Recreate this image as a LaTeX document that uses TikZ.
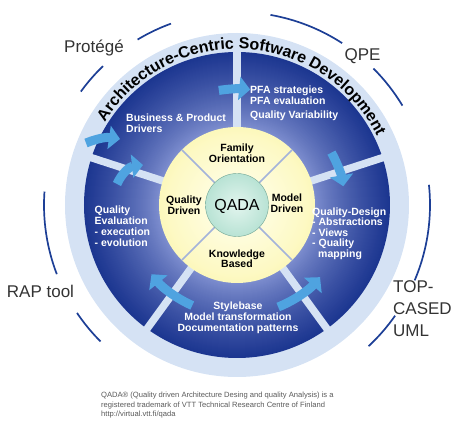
\documentclass[tikz,border=0pt]{standalone}
\usepackage{fontspec}
\setmainfont{Liberation Sans}
\usetikzlibrary{arrows.meta,decorations.text}
\definecolor{ringblue}{HTML}{D5E2F4}
\definecolor{disklight}{HTML}{94A2DD}
\definecolor{diskdark}{HTML}{1C3690}
\definecolor{yelin}{HTML}{FFFFF0}
\definecolor{yelmid}{HTML}{FDF9C4}
\definecolor{yelout}{HTML}{F4EC70}
\definecolor{grnin}{HTML}{E2F5EE}
\definecolor{grnout}{HTML}{8ED0BA}
\definecolor{arrowblue}{HTML}{4FA3E0}
\definecolor{rimblue}{HTML}{1D3F96}
\definecolor{seamblue}{HTML}{A3B3DA}
\pgfdeclareradialshading{yelshade}{\pgfpoint{0bp}{0bp}}{color(0bp)=(yelin); color(22bp)=(yelmid); color(50bp)=(yelout)}
\pgfdeclareradialshading{grnshade}{\pgfpoint{0bp}{0bp}}{color(0bp)=(grnin); color(50bp)=(grnout)}

\begin{document}
\begin{tikzpicture}[x=1pt,y=1pt,
  lbl/.style={inner sep=0pt,text=black!80,font=\fontsize{17}{22}\selectfont},
  note/.style={inner sep=0pt,text=white,align=left,font=\bfseries\fontsize{10.5}{11}\selectfont},
  core/.style={inner sep=0pt,text=black,align=center,font=\bfseries\fontsize{10.5}{11}\selectfont},
  flow/.style={arrowblue,line width=9pt,-{Triangle[width=23pt,length=11pt]}},
  gap/.style={ringblue,line width=7.5pt},
  seam/.style={seamblue,line width=1.5pt},
  rim/.style={rimblue,line width=1.7pt}]
\useasboundingbox (-237,-231) rectangle (230,205);
% rings and discs
\fill[ringblue] (0,0) circle (172);
\foreach \r in {153,152,...,72}{
  \pgfmathsetmacro{\t}{100*((\r-71)/82)^0.7}
  \fill[diskdark!\t!disklight] (0,0) circle (\r);
}
\foreach \a in {18,90,162,234,306} \draw[gap] (\a:70) -- (\a:154);
\shade[shading=yelshade] (0,0) circle (78);
\foreach \a in {45,135,225,315} \draw[seam] (\a:31) -- (\a:78);
\shade[shading=grnshade,draw=grnout!80!black,line width=0.4pt] (0,0) circle (31.5);
% centre
\node[inner sep=0pt,font=\fontsize{16}{16}\selectfont] (qada) at (0,-1) {QADA};
\node[core] (family) at (0,51.5) {Family\\Orientation};
\node[core] (model) at (50,1.5) {Model\\Driven};
\node[core,font=\bfseries\fontsize{10.5}{10.5}\selectfont] (knowledge) at (0,-54) {Knowledge\\Based};
\node[core] (quality) at (-53,-0.5) {Quality\\Driven};
% sectors
\node[note,anchor=west] (business) at (-111,82) {Business \& Product\\Drivers};
\node[note,anchor=west] (pfa) at (13,102) {PFA strategies\\PFA evaluation\\[3pt]Quality Variability};
\node[note,anchor=west,font=\bfseries\fontsize{10.5}{10.5}\selectfont] (design) at (75,-28.5) {Quality-Design\\- Abstractions\\- Views\\- Quality\\\hspace*{6pt}mapping};
\node[note,anchor=west] (evaluation) at (-142.5,-21) {Quality\\Evaluation\\- execution\\- evolution};
\node[note,align=center] (stylebase) at (1,-113) {Stylebase\\Model transformation\\Documentation patterns};
% arrows
\draw[flow] (99:116) arc (99:84:120);
\draw[flow] (29:108) arc (29:10:108);
\draw[flow] (292:110) arc (292:319:110);
\draw[flow] (246:110) arc (246:219:110);
\draw[flow] (-151,62) to[bend left=15] (-117,66);
\draw[flow] (-120,21) to[bend left=30] (-94,40);
% tools
\foreach \a/\b in {110/121,134/144,176/201,214/225,313/325,337/366,31/45,57/80}
  \draw[rim] (\a:193) arc (\a:\b:193);
\node[lbl,anchor=base] (protege) at (-143,152) {Protégé};
\node[lbl,anchor=base] (qpe) at (125.5,144) {QPE};
\node[lbl,anchor=base] (rap) at (-196.5,-92.5) {RAP tool};
\node[lbl,anchor=north west,align=left] (topcased) at (156,-75) {TOP-\\CASED\\UML};
% title on the ring
\path[decorate,decoration={text along path,text align=center,
  text={|\bfseries\fontsize{16}{16}\selectfont|Architecture-Centric Software Development}}]
  (148:156) arc (148:26:156);
% footnote
\node[inner sep=0pt,anchor=north west,align=left,text=black!65,font=\fontsize{7.6}{9.5}\selectfont] (trademark) at (-136,-187)
  {QADA® (Quality driven Architecture Desing and quality Analysis) is a\\registered trademark of VTT Technical Research Centre of Finland\\http://virtual.vtt.fi/qada};
\end{tikzpicture}
\end{document}
